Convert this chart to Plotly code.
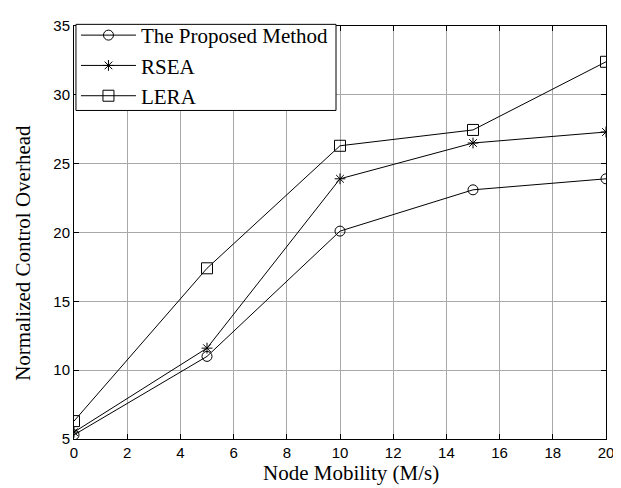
import plotly.graph_objects as go

x_vals = [0, 5, 10, 15, 20]
proposed = [5.3, 11.0, 20.1, 23.1, 23.9]
rsea = [5.5, 11.6, 23.9, 26.5, 27.3]
lera = [6.3, 17.4, 26.3, 27.45, 32.4]
series_names = ["The Proposed Method", "RSEA", "LERA"]
x_ticks = list(range(0, 21, 2))
y_ticks = list(range(5, 36, 5))
x_title = "Node Mobility (M/s)"
y_title = "Normalized Control Overhead"

serif = "Liberation Serif, Times New Roman, serif"
sans = "Liberation Sans, Arial, sans-serif"

fig = go.Figure()
symbols = ["circle-open", "asterisk-open", "square-open"]
sizes = [10, 9, 11]
for name, ys, sym, sz in zip(series_names, [proposed, rsea, lera], symbols, sizes):
    fig.add_trace(go.Scatter(
        x=x_vals, y=ys, name=name, mode="lines+markers",
        line=dict(color="black", width=1),
        marker=dict(symbol=sym, size=sz, color="black", line=dict(width=1, color="black")),
    ))

axis_common = dict(
    showline=True, linecolor="black", linewidth=1, mirror="ticks",
    ticks="inside", ticklen=5, tickcolor="black",
    showgrid=True, gridcolor="#a8a8a8", gridwidth=1, zeroline=False,
    tickfont=dict(family=sans, size=15, color="black"),
)
fig.update_xaxes(range=[0, 20], tickvals=x_ticks, **axis_common)
fig.update_yaxes(range=[5, 35], tickvals=y_ticks, **axis_common)

fig.add_annotation(text=x_title, xref="paper", yref="paper", x=0.5205, y=-0.1156,
                   xanchor="center", yanchor="bottom", showarrow=False,
                   font=dict(family=serif, size=21, color="black"))
fig.add_annotation(text=y_title, xref="paper", yref="paper", x=-0.0951, y=0.4517,
                   xanchor="center", yanchor="middle", showarrow=False, textangle=-90,
                   font=dict(family=serif, size=21, color="black"))

# legend frame (white box with black border, drawn above the traces)
fig.add_shape(type="rect", xref="paper", yref="paper",
              x0=0.0037, x1=0.4925, y0=0.7955, y1=1.004,
              fillcolor="white", line=dict(color="black", width=1), layer="above")

fig.update_layout(
    width=613, height=480,
    margin=dict(l=66, r=11, t=7, b=49),
    plot_bgcolor="white", paper_bgcolor="white",
    showlegend=True,
    legend=dict(x=0.0037, y=1.0267, xanchor="left", yanchor="top",
                bgcolor="rgba(0,0,0,0)", borderwidth=0,
                font=dict(family=serif, size=21, color="black"),
                itemwidth=55, tracegroupgap=0),
)
fig.write_html("out.html")
